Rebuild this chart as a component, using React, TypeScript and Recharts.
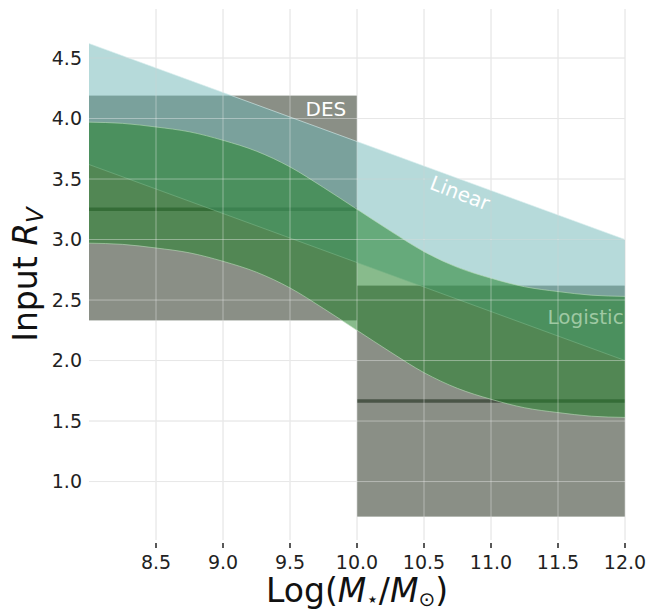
import React from 'react';
import { ComposedChart, Area, Line, XAxis, YAxis, CartesianGrid, ReferenceLine, ReferenceDot, Label } from 'recharts';

const FONT = '"DejaVu Sans", sans-serif';

const X_TICKS = [8.5, 9.0, 9.5, 10.0, 10.5, 11.0, 11.5, 12.0];
const Y_TICKS = [1.0, 1.5, 2.0, 2.5, 3.0, 3.5, 4.0, 4.5];

// DES bins (low / high mass): edges, 68% range, median
const DES_X = [[8.0, 10.0], [10.0, 12.0]];
const DES_LO = [2.33, 0.71];
const DES_HI = [4.19, 2.62];
const DES_MED = [3.25, 1.665];

// linear model band
const LIN_X = [8.0, 12.0];
const LIN_LO = [3.62, 2.0];
const LIN_HI = [4.62, 3.0];

// logistic model band
const LOG_X = [8.0, 8.25, 8.5, 8.75, 9.0, 9.25, 9.5, 9.75, 10.0, 10.25, 10.5, 10.75, 11.0, 11.25, 11.5, 11.75, 12.0];
const LOG_LO = [2.97, 2.96, 2.93, 2.89, 2.82, 2.73, 2.6, 2.43, 2.25, 2.07, 1.9, 1.77, 1.68, 1.61, 1.57, 1.54, 1.53];
const LOG_HI = [3.97, 3.96, 3.93, 3.89, 3.82, 3.73, 3.6, 3.43, 3.25, 3.07, 2.9, 2.77, 2.68, 2.61, 2.57, 2.54, 2.53];

const desBoxes = DES_X.map((xs, i) => xs.map(x => ({ x, band: [DES_LO[i], DES_HI[i]] })));
const desMedians = DES_X.map((xs, i) => xs.map(x => ({ x, y: DES_MED[i] })));
const linData = LIN_X.map((x, i) => ({ x, band: [LIN_LO[i], LIN_HI[i]] }));
const logData = LOG_X.map((x, i) => ({ x, band: [LOG_LO[i], LOG_HI[i]] }));

const XTick = (props: any) => {
  const { x, y, payload } = props;
  return (
    <g>
      <line x1={x} x2={x} y1={y + 3} y2={y + 8} stroke="#222" strokeWidth={1.5} />
      <text x={x} y={y + 29} textAnchor="middle" fill="#222" fontSize={19} fontFamily={FONT}>
        {Number(payload.value).toFixed(1)}
      </text>
    </g>
  );
};

const XLabel = (props: any) => {
  const { x, y, width } = props.viewBox;
  return (
    <text x={x + width / 2} y={y + 62} textAnchor="middle" fill="#111" fontSize={33} fontFamily={FONT}>
      Log(<tspan fontStyle="italic">M</tspan>
      <tspan fontSize={20} dy={4}>⋆</tspan>
      <tspan dy={-4}>/</tspan>
      <tspan fontStyle="italic">M</tspan>
      <tspan fontSize={20} dy={4}>⊙</tspan>
      <tspan dy={-4}>)</tspan>
    </text>
  );
};

const YLabel = (props: any) => {
  const { y, height } = props.viewBox;
  const cx = 37;
  const cy = y + height / 2;
  return (
    <text transform={`translate(${cx},${cy}) rotate(-90)`} textAnchor="middle" fill="#111" fontSize={33} fontFamily={FONT}>
      Input <tspan fontStyle="italic">R</tspan>
      <tspan fontStyle="italic" fontSize={23} dy={6}>V</tspan>
    </text>
  );
};

const textShape = (txt: string, fill: string, anchor: string, rotate = 0) => (p: any) => (
  <text
    x={p.cx}
    y={p.cy}
    fill={fill}
    fontSize={20}
    fontFamily={FONT}
    textAnchor={anchor}
    transform={rotate ? `rotate(${rotate},${p.cx},${p.cy})` : undefined}
  >
    {txt}
  </text>
);

export default function App() {
  return (
    <div style={{ position: 'absolute', left: 0, top: 0, background: '#fff' }}>
      <ComposedChart width={651} height={611} margin={{ top: 9, right: 26, left: 0, bottom: 0 }}>
        <CartesianGrid stroke="#e0e0e0" strokeWidth={1} horizontalValues={Y_TICKS} verticalValues={X_TICKS} />
        <XAxis
          type="number"
          dataKey="x"
          domain={[8, 12]}
          ticks={X_TICKS}
          allowDataOverflow
          axisLine={false}
          tickLine={false}
          tickSize={0}
          tickMargin={0}
          height={71}
          tick={<XTick />}
          interval={0}
        >
          <Label content={<XLabel />} />
        </XAxis>
        <YAxis
          type="number"
          domain={[0.517, 4.905]}
          ticks={Y_TICKS}
          allowDataOverflow
          axisLine={false}
          tickLine={false}
          tickSize={0}
          tickMargin={7}
          width={89}
          interval={0}
          tickFormatter={(v: number) => v.toFixed(1)}
          tick={{ fill: '#222', fontSize: 19, fontFamily: FONT }}
        >
          <Label content={<YLabel />} />
        </YAxis>

        {desBoxes.map((d, i) => (
          <Area
            key={`des-${i}`}
            data={d}
            dataKey="band"
            type="linear"
            fill="#8a8f86"
            fillOpacity={1}
            stroke="#ffffff"
            strokeOpacity={0.2}
            strokeWidth={1}
            isAnimationActive={false}
            zIndex={100}
          />
        ))}
        {desMedians.map((d, i) => (
          <Line
            key={`med-${i}`}
            data={d}
            dataKey="y"
            type="linear"
            stroke="#4a5547"
            strokeWidth={3.5}
            dot={false}
            activeDot={false}
            isAnimationActive={false}
            zIndex={101}
          />
        ))}
        <Area
          data={linData}
          dataKey="band"
          type="linear"
          fill="#6ab4b4"
          fillOpacity={0.49}
          stroke="#d8eeee"
          strokeOpacity={0.6}
          strokeWidth={1}
          isAnimationActive={false}
          zIndex={102}
        />
        <Area
          data={logData}
          dataKey="band"
          type="monotone"
          fill="#23822b"
          fillOpacity={0.54}
          stroke="#b8dcb8"
          strokeOpacity={0.6}
          strokeWidth={1}
          isAnimationActive={false}
          zIndex={103}
        />

        {X_TICKS.map(t => (
          <ReferenceLine key={`gx-${t}`} x={t} stroke="#f0f0f0" strokeOpacity={0.42} zIndex={500} />
        ))}
        {Y_TICKS.map(t => (
          <ReferenceLine key={`gy-${t}`} y={t} stroke="#f0f0f0" strokeOpacity={0.42} zIndex={500} />
        ))}

        <ReferenceDot x={9.92} y={4.02} r={0} shape={textShape('DES', '#ffffff', 'end')} zIndex={600} />
        <ReferenceDot x={10.75} y={3.33} r={0} shape={textShape('Linear', '#ffffff', 'middle', 21)} zIndex={600} />
        <ReferenceDot x={11.99} y={2.3} r={0} shape={textShape('Logistic', '#9fc9a3', 'end')} zIndex={600} />
      </ComposedChart>
    </div>
  );
}
